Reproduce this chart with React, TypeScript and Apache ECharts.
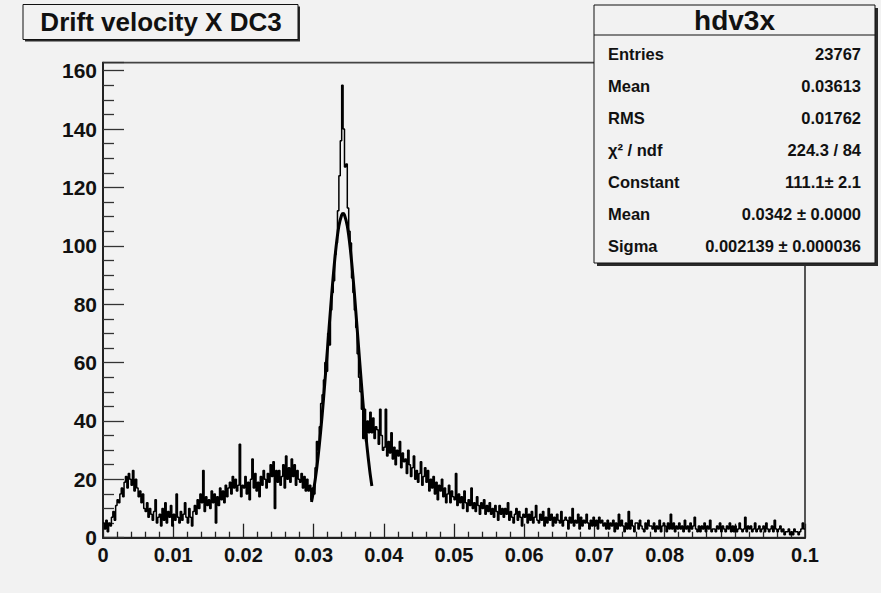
import React, { useEffect, useRef } from "react";
import * as echarts from "echarts";

// Histogram hdv3x: 500 bins from 0 to 0.1 (bin width 0.0002)
const xMin = 0;
const xMax = 0.1;
const binWidth = 0.0002;
const counts: number[] = [
  5, 3, 6, 2, 5, 4, 7, 9, 6, 11,
  13, 12, 15, 17, 14, 19, 21, 17, 22, 20,
  18, 23, 16, 20, 17, 14, 16, 12, 15, 10,
  9, 12, 7, 10, 8, 6, 9, 13, 5, 7,
  8, 4, 10, 6, 12, 5, 9, 7, 11, 4,
  8, 6, 15, 7, 5, 9, 6, 8, 12, 7,
  5, 10, 7, 4, 9, 11, 8, 13, 10, 15,
  12, 23, 9, 14, 11, 13, 10, 16, 12, 15,
  5, 14, 11, 17, 13, 16, 12, 18, 14, 17,
  19, 15, 21, 17, 20, 16, 18, 32, 14, 18,
  17, 21, 15, 19, 13, 20, 27, 17, 22, 16,
  19, 14, 21, 18, 23, 20, 17, 22, 19, 25,
  21, 26, 10, 23, 19, 23, 18, 21, 25, 17,
  28, 20, 24, 19, 27, 21, 25, 18, 23, 20,
  19, 22, 17, 21, 16, 20, 16, 18, 13, 17,
  15, 24, 33, 30, 38, 46, 49, 54, 60, 57,
  70, 66, 78, 84, 88, 97, 101, 112, 124, 136,
  155, 140, 127, 128, 113, 105, 101, 89, 84, 78,
  72, 63, 55, 50, 44, 34, 44, 33, 40, 36,
  43, 36, 41, 34, 38, 37, 32, 44, 35, 30,
  31, 44, 28, 33, 29, 36, 27, 31, 25, 30,
  28, 33, 24, 29, 26, 27, 22, 30, 25, 21,
  24, 28, 20, 23, 19, 22, 26, 18, 21, 24,
  19, 23, 16, 20, 17, 21, 15, 19, 13, 18,
  16, 20, 14, 17, 12, 15, 18, 12, 16, 14,
  13, 22, 11, 15, 12, 14, 10, 16, 12, 9,
  13, 11, 17, 10, 12, 9, 14, 11, 8, 12,
  10, 13, 8, 11, 9, 12, 8, 10, 7, 11,
  9, 6, 11, 8, 10, 7, 10, 8, 12, 6,
  9, 7, 5, 8, 10, 6, 9, 7, 4, 8,
  7, 10, 5, 8, 6, 9, 5, 7, 11, 6,
  5, 8, 6, 9, 4, 7, 5, 10, 6, 8,
  4, 7, 5, 8, 6, 5, 9, 4, 6, 7,
  6, 3, 7, 5, 10, 4, 6, 5, 8, 3,
  7, 4, 6, 5, 8, 5, 3, 6, 4, 7,
  4, 6, 3, 7, 5, 6, 4, 5, 3, 6,
  3, 5, 4, 6, 2, 5, 3, 8, 4, 6,
  4, 2, 5, 3, 9, 3, 6, 4, 2, 5,
  5, 3, 6, 4, 3, 2, 5, 3, 6, 4,
  4, 3, 5, 2, 4, 3, 6, 2, 4, 5,
  4, 2, 5, 3, 8, 3, 5, 2, 4, 3,
  5, 3, 4, 2, 6, 3, 4, 2, 5, 3,
  4, 7, 3, 2, 4, 2, 4, 3, 5, 2,
  4, 3, 6, 2, 3, 3, 2, 4, 3, 5,
  2, 4, 3, 2, 4, 3, 5, 2, 4, 2,
  4, 2, 3, 5, 3, 2, 3, 7, 2, 4,
  3, 4, 2, 3, 5, 2, 3, 4, 2, 3,
  4, 2, 5, 3, 2, 3, 4, 2, 6, 3,
  2, 3, 4, 2, 3, 1, 2, 2, 3, 1,
  2, 1, 3, 2, 2, 1, 2, 3, 5, 3,
];

const fitX: number[] = [
  0.0297, 0.03, 0.0304, 0.0308, 0.0312, 0.0316, 0.032, 0.0324, 0.0328, 0.0332,
  0.0336, 0.034, 0.0342, 0.0344, 0.0348, 0.0352, 0.0356, 0.036, 0.0364, 0.0368,
  0.0372, 0.0376, 0.038, 0.0383,
];
const fitY: number[] = [
  12.2, 16.2, 22.9, 31.4, 41.5, 53.1, 65.5, 78.0, 89.7, 99.6,
  106.8, 110.6, 111.1, 110.6, 106.8, 99.6, 89.7, 78.0, 65.5, 53.1,
  41.5, 31.4, 22.9, 17.7,
];

const yMax = 162.75;
const yTickStep = 20;
const xTickStep = 0.01;

const titleText = "Drift velocity X DC3";
const statsTitle = "hdv3x";
const statLabels = ["Entries", "Mean", "RMS", "χ² / ndf", "Constant", "Mean", "Sigma"];
const statValues = [
  "23767",
  "0.03613",
  "0.01762",
  "224.3 / 84",
  "111.1± 2.1",
  "0.0342 ± 0.0000",
  "0.002139 ± 0.000036",
];

const FONT = '"Liberation Sans", Arial, Helvetica, sans-serif';
const BG = "#f2f2f2";
const INK = "#111111";

export default function App() {
  const ref = useRef<HTMLDivElement>(null);

  useEffect(() => {
    document.body.style.margin = "0";
    document.body.style.background = BG;
    if (!ref.current) return;
    const chart = echarts.init(ref.current, null, { renderer: "svg" });

    const histData: [number, number][] = counts.map((v, i) => [xMin + i * binWidth, v]);
    histData.push([xMax, counts[counts.length - 1]]);
    const fitData = fitX.map((x, i) => [x, fitY[i]]);

    const statsLeft = 594;
    const statsTop = 5;
    const statsW = 281;
    const statsH = 258;
    const rowTop = 54.3;
    const rowStep = 31.9;

    const statChildren: any[] = [
      { type: "rect", shape: { x: statsLeft + 3, y: statsTop + 3, width: statsW, height: statsH }, style: { fill: "#2a2a2a" } },
      { type: "rect", shape: { x: statsLeft, y: statsTop, width: statsW, height: statsH }, style: { fill: BG, stroke: INK, lineWidth: 1 } },
      { type: "line", shape: { x1: statsLeft, y1: 35, x2: statsLeft + statsW, y2: 35 }, style: { stroke: INK, lineWidth: 1 } },
      {
        type: "text",
        x: statsLeft + statsW / 2,
        y: 20.5,
        style: { text: statsTitle, fontFamily: FONT, fontWeight: "bold", fontSize: 28, fill: INK, align: "center", verticalAlign: "middle", textAlign: "center", textVerticalAlign: "middle" },
      },
    ];
    statLabels.forEach((lab, i) => {
      const y = rowTop + i * rowStep;
      statChildren.push({
        type: "text",
        x: 608,
        y,
        style: { text: lab, fontFamily: FONT, fontWeight: "bold", fontSize: 16.5, fill: INK, align: "left", verticalAlign: "middle", textAlign: "left", textVerticalAlign: "middle" },
      });
      statChildren.push({
        type: "text",
        x: 861,
        y,
        style: { text: statValues[i], fontFamily: FONT, fontWeight: "bold", fontSize: 16.5, fill: INK, align: "right", verticalAlign: "middle", textAlign: "right", textVerticalAlign: "middle" },
      });
    });

    const option: any = {
      animation: false,
      backgroundColor: BG,
      textStyle: { fontFamily: FONT },
      grid: {
        left: 103,
        right: 76,
        top: 62.7,
        bottom: 55.3,
        show: true,
        borderColor: "#444",
        borderWidth: 1.8,
        backgroundColor: "transparent",
      },
      xAxis: {
        type: "value",
        min: xMin,
        max: xMax,
        interval: xTickStep,
        axisLine: { show: true, onZero: false, lineStyle: { color: "#222", width: 2 } },
        axisTick: { show: true, inside: true, length: 14, lineStyle: { color: "#222", width: 1.3 } },
        minorTick: { show: true, splitNumber: 5, length: 6, lineStyle: { color: "#222", width: 1.3 } },
        splitLine: { show: false },
        axisLabel: {
          margin: 7,
          fontSize: 20,
          fontWeight: "bold",
          color: INK,
          fontFamily: FONT,
          showMinLabel: true,
          showMaxLabel: true,
          formatter: (v: number) => String(+v.toFixed(3)),
        },
      },
      yAxis: {
        type: "value",
        min: 0,
        max: yMax,
        interval: yTickStep,
        axisLine: { show: true, onZero: false, lineStyle: { color: "#222", width: 2 } },
        axisTick: { show: true, inside: true, length: 21, lineStyle: { color: "#333", width: 1.3 } },
        minorTick: { show: true, splitNumber: 4, length: 11, lineStyle: { color: "#333", width: 1.3 } },
        splitLine: { show: false },
        axisLabel: {
          margin: 6,
          fontSize: 21,
          fontWeight: "bold",
          color: INK,
          fontFamily: FONT,
          formatter: (v: number) => (Math.abs(v % yTickStep) < 1e-6 ? String(v) : ""),
        },
      },
      series: [
        {
          type: "line",
          data: histData,
          step: "end",
          symbol: "none",
          clip: true,
          lineStyle: { color: "#000", width: 1.5 },
          z: 2,
        },
        {
          type: "line",
          data: fitData,
          smooth: 0.3,
          symbol: "none",
          lineStyle: { color: "#000", width: 3 },
          z: 3,
        },
      ],
      graphic: [
        {
          type: "group",
          z: 100,
          children: [
            { type: "rect", shape: { x: 25, y: 6.5, width: 275, height: 35 }, style: { fill: "#2a2a2a" } },
            { type: "rect", shape: { x: 23, y: 4.5, width: 275, height: 35 }, style: { fill: BG, stroke: INK, lineWidth: 1 } },
            {
              type: "text",
              x: 161,
              y: 22,
              style: { text: titleText, fontFamily: FONT, fontWeight: "bold", fontSize: 26, fill: INK, align: "center", verticalAlign: "middle", textAlign: "center", textVerticalAlign: "middle" },
            },
          ],
        },
        { type: "group", z: 100, children: statChildren },
      ],
    };

    chart.setOption(option);
    return () => chart.dispose();
  }, []);

  return <div ref={ref} style={{ width: 881, height: 593 }} />;
}
